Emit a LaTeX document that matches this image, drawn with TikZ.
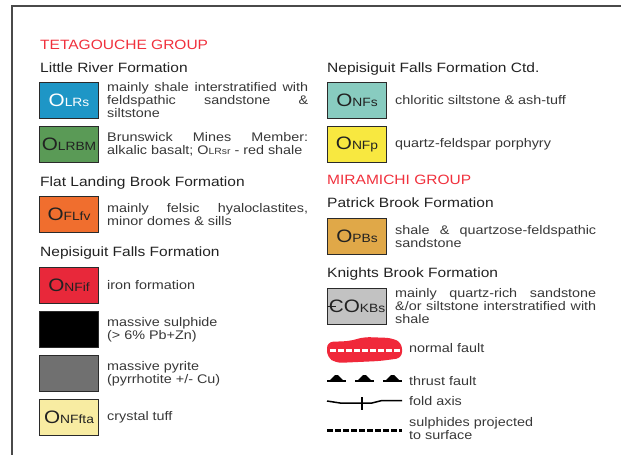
\documentclass[tikz,border=0pt]{standalone}
\usepackage{fontspec}
\setmainfont[FakeStretch=1.15]{Liberation Sans}
\usepackage{xcolor}
\usepackage{tikz}
\usetikzlibrary{positioning}

\definecolor{grpred}{HTML}{F0303C}
\definecolor{txtdark}{HTML}{222222}
\definecolor{txtgrey}{HTML}{383838}
\definecolor{boxline}{HTML}{2A2A2A}
\definecolor{framegrey}{HTML}{4A4A4A}
\definecolor{lrsblue}{HTML}{1E96C6}
\definecolor{lrbmgreen}{HTML}{5A9A56}
\definecolor{flborange}{HTML}{F06E2E}
\definecolor{nfired}{HTML}{E8283A}
\definecolor{pyrgrey}{HTML}{707070}
\definecolor{ftapale}{HTML}{F8ECA2}
\definecolor{nfsteal}{HTML}{88CCC0}
\definecolor{nfpyellow}{HTML}{F8E840}
\definecolor{pbsochre}{HTML}{E0A848}
\definecolor{kbsgrey}{HTML}{C2C2C2}
\definecolor{faultred}{HTML}{F0283A}

\newcommand{\unitlab}[2]{{\fontsize{18}{18}\selectfont #1}{\fontsize{12}{12}\selectfont #2}}
\newcommand{\cambC}{\makebox[0pt][l]{\kern-2pt\rule[6pt]{9pt}{1.2pt}}C}

\begin{document}
\begin{tikzpicture}[
  x=1pt,y=1pt,
  font=\fontsize{12.5}{13}\selectfont,
  grp/.style={anchor=base west,inner sep=0pt,text=grpred,font=\fontsize{13.5}{14}\selectfont},
  fmn/.style={anchor=base west,inner sep=0pt,text=txtdark,font=\fontsize{13.5}{14}\selectfont},
  unitbox/.style={draw=boxline,line width=1pt,minimum width=59pt,minimum height=36pt,inner sep=0pt,text=txtdark},
  desc/.style={text width=201pt,align=justify,inner sep=0pt,text=txtgrey},
  note/.style={anchor=west,inner sep=0pt,align=left,text=txtgrey},
  node distance=7pt and 8pt
]
\useasboundingbox (0,0) rectangle (621,-455);
\draw[framegrey,line width=1.5pt] (12,-455) -- (12,-6) -- (621,-6);
% Tetagouche group
\node[grp] (teta) at (40,-49) {TETAGOUCHE GROUP};
\node[fmn] (lrf) at (40,-72) {Little River Formation};
\node[unitbox,fill=lrsblue,text=white,anchor=north west] (lrs) at (39,-82) {\unitlab{O}{LRs}};
\node[desc,right=of lrs] (lrsd) {mainly shale interstratified with\linebreak feldspathic sandstone \&\linebreak siltstone};
\node[unitbox,fill=lrbmgreen,below=of lrs] (lrbm) {\unitlab{O}{LRBM}};
\node[desc,right=of lrbm] (lrbmd) {Brunswick Mines Member:\linebreak alkalic basalt; O{\fontsize{9}{9}\selectfont LRsr} - red shale};
\node[fmn] (flb) at (40,-186) {Flat Landing Brook Formation};
\node[unitbox,fill=flborange,anchor=north west] (flfv) at (39,-196) {\unitlab{O}{FLfv}};
\node[desc,right=of flfv] (flfvd) {mainly felsic hyaloclastites,\linebreak minor domes \& sills};
\node[fmn] (nff) at (40,-256) {Nepisiguit Falls Formation};
\node[unitbox,fill=nfired,anchor=north west] (nfif) at (39,-267) {\unitlab{O}{NFif}};
\node[desc,right=of nfif] (nfifd) {iron formation};
\node[unitbox,fill=black,below=of nfif] (msul) {};
\node[desc,right=of msul] (msuld) {massive sulphide\\(> 6\% Pb+Zn)};
\node[unitbox,fill=pyrgrey,below=of msul] (mpyr) {};
\node[desc,right=of mpyr] (mpyrd) {massive pyrite\\(pyrrhotite +/- Cu)};
\node[unitbox,fill=ftapale,below=of mpyr] (nffta) {\unitlab{O}{NFfta}};
\node[desc,right=of nffta] (nfftad) {crystal tuff};
% Nepisiguit ctd. and Miramichi group
\node[fmn] (nfc) at (327,-72) {Nepisiguit Falls Formation Ctd.};
\node[unitbox,fill=nfsteal,anchor=north west] (nfs) at (327,-82) {\unitlab{O}{NFs}};
\node[desc,right=of nfs] (nfsd) {chloritic siltstone \& ash-tuff};
\node[unitbox,fill=nfpyellow,below=of nfs] (nfp) {\unitlab{O}{NFp}};
\node[desc,right=of nfp] (nfpd) {quartz-feldspar porphyry};
\node[grp] (mira) at (327,-184) {MIRAMICHI GROUP};
\node[fmn] (pbf) at (327,-207) {Patrick Brook Formation};
\node[unitbox,fill=pbsochre,anchor=north west] (pbs) at (327,-218) {\unitlab{O}{PBs}};
\node[desc,right=of pbs] (pbsd) {shale \& quartzose-feldspathic\linebreak sandstone};
\node[fmn] (kbf) at (327,-277) {Knights Brook Formation};
\node[unitbox,fill=kbsgrey,anchor=north west] (kbs) at (327,-288) {\unitlab{\cambC O}{KBs}};
\node[desc,right=of kbs] (kbsd) {mainly quartz-rich sandstone\linebreak \&/or siltstone interstratified with\linebreak shale};
% line symbols
\fill[faultred,rounded corners=6pt] (327,-342) -- (350,-341) -- (364,-337) -- (392,-338) -- (402,-343)
  -- (402,-358) -- (380,-361) -- (336,-363) -- (327,-357) -- cycle;
\draw[white,line width=3pt,dash pattern=on 5.5pt off 2.5pt] (330,-350) -- (400,-350);
\node[note] (nfault) at (409,-348) {normal fault};
\foreach \x in {327,355,383} {
  \draw[black,line width=2pt] (\x,-381) -- ++(19,0);
  \fill[black] (\x+2,-381) -- (\x+8,-375) -- (\x+11,-375) -- (\x+17,-381) -- cycle;
}
\node[note] (tfault) at (409,-381) {thrust fault};
\draw[black,line width=1.5pt] (327,-401) -- (340,-403) -- (372,-403) -- (382,-400.5) -- (402,-400.5);
\draw[black,line width=1.5pt] (362,-397) -- (362,-410);
\node[note] (faxis) at (409,-401) {fold axis};
\draw[black,line width=3pt,dash pattern=on 5.5pt off 2.5pt] (327,-430) -- (402,-430);
\node[note] (sulph) at (409,-429) {sulphides projected\\to surface};
\end{tikzpicture}
\end{document}
